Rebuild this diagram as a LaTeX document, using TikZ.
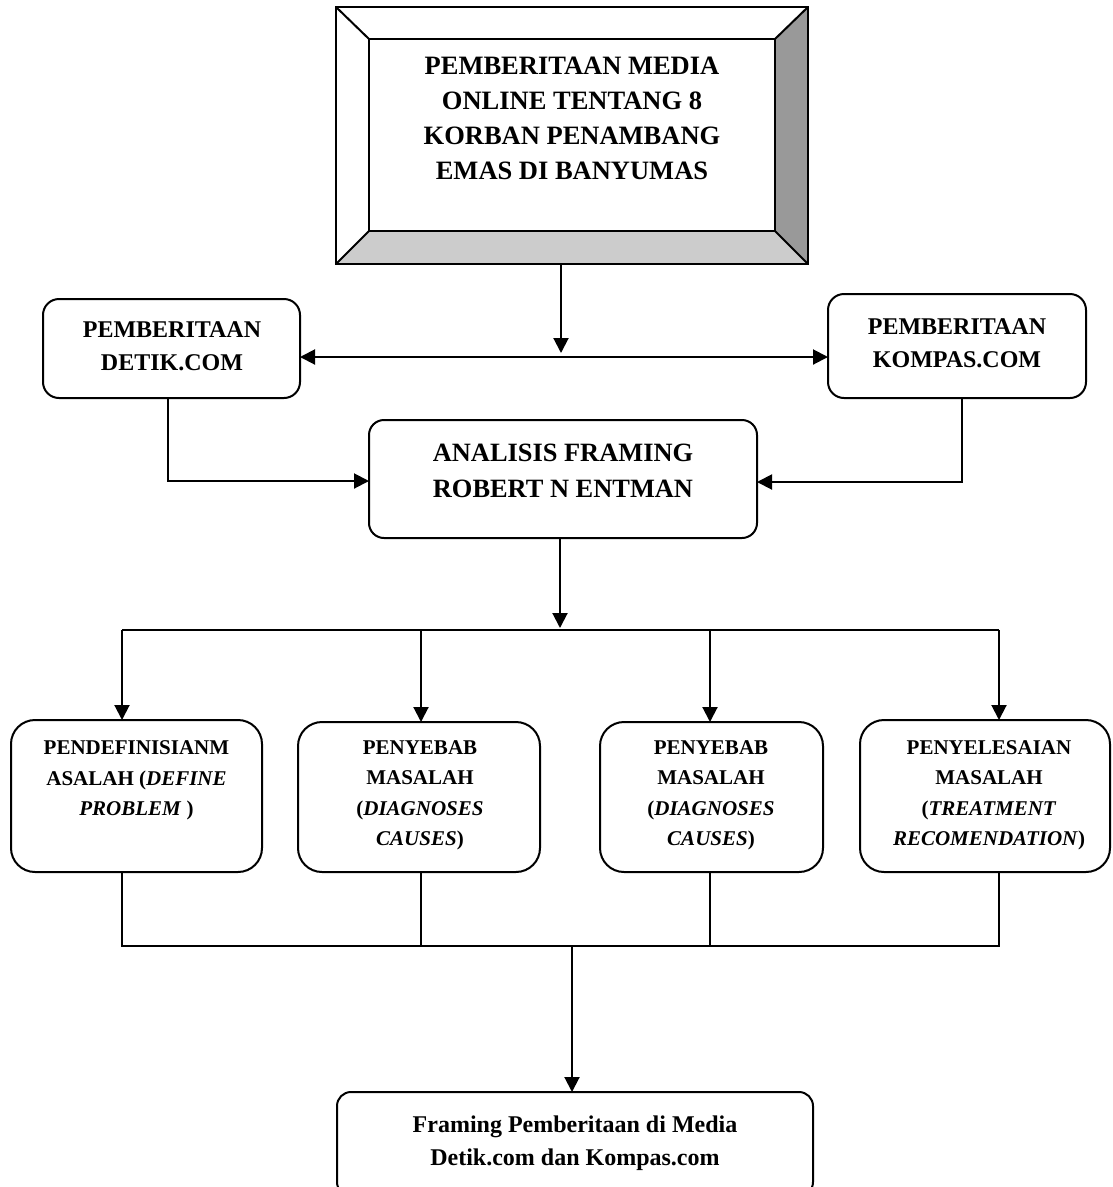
\documentclass[tikz,border=0pt]{standalone}
\usepackage{fontspec}
\setmainfont{Liberation Serif}
\usetikzlibrary{arrows.meta}
\begin{document}
\begin{tikzpicture}[x=1pt,y=-1pt,line width=2pt,
  boxr/.style={draw, rounded corners=#1, inner sep=0pt, outer sep=0pt},
  lbl/.style={inner sep=0pt, align=center},
  fbig/.style={font=\fontsize{26.5}{35}\selectfont\bfseries},
  fmed/.style={font=\fontsize{24}{33}\selectfont\bfseries},
  fana/.style={font=\fontsize{26.4}{36}\selectfont\bfseries},
  fsm/.style={font=\fontsize{21}{30.5}\selectfont\bfseries},
  arr/.style={-{Triangle[length=15pt,width=15pt]}},
  arrtwo/.style={{Triangle[length=15pt,width=15pt]}-{Triangle[length=15pt,width=15pt]}}]
\useasboundingbox (0,0) rectangle (1113,1187);
\clip (0,0) rectangle (1113,1187);
\fill[white] (0,0) rectangle (1113,1187);

% top bevel box
\node[inner sep=0pt, outer sep=0pt, minimum width=472, minimum height=257] (top) at (572,135.5) {};
\node[inner sep=0pt, outer sep=0pt, minimum width=406, minimum height=192] (topin) at (572,135) {};
\fill[black!40] (top.north east) -- (top.south east) -- (topin.south east) -- (topin.north east) -- cycle;
\fill[black!20] (top.south west) -- (top.south east) -- (topin.south east) -- (topin.south west) -- cycle;
\draw (top.north west) rectangle (top.south east);
\draw (topin.north west) rectangle (topin.south east);
\draw (top.north west) -- (topin.north west);
\draw (top.north east) -- (topin.north east);
\draw (top.south west) -- (topin.south west);
\draw (top.south east) -- (topin.south east);
\node[lbl,fbig] (toptext) at (572,118.5) {PEMBERITAAN MEDIA\\ONLINE TENTANG 8\\KORBAN PENAMBANG\\EMAS DI BANYUMAS};

% media boxes
\node[boxr=16, minimum width=257, minimum height=99] (detik) at (171.5,348.5) {};
\node[lbl,fmed] (detiktext) at (172,346.5) {PEMBERITAAN\\DETIK.COM};
\node[boxr=16, minimum width=258, minimum height=104] (kompas) at (957,346) {};
\node[lbl,fmed] (kompastext) at (957,343.5) {PEMBERITAAN\\KOMPAS.COM};

\node[boxr=15, minimum width=388, minimum height=118] (analisis) at (563,479) {};
\node[lbl,fana] (analisistext) at (563,471) {ANALISIS FRAMING\\ROBERT N ENTMAN};

% four boxes
\node[boxr=24, minimum width=251, minimum height=152] (b1) at (136.5,796) {};
\node[lbl,fsm] (b1t) at (136.5,780.5) {PENDEFINISIANM\\ASALAH (\textit{DEFINE}\\\textit{PROBLEM} )};
\node[boxr=24, minimum width=242, minimum height=150] (b2) at (419,797) {};
\node[lbl,fsm] (b2t) at (420,795.5) {PENYEBAB\\MASALAH\\(\textit{DIAGNOSES}\\\textit{CAUSES})};
\node[boxr=24, minimum width=223, minimum height=150] (b3) at (711.5,797) {};
\node[lbl,fsm] (b3t) at (711,795.5) {PENYEBAB\\MASALAH\\(\textit{DIAGNOSES}\\\textit{CAUSES})};
\node[boxr=24, minimum width=250, minimum height=152] (b4) at (985,796) {};
\node[lbl,fsm] (b4t) at (989,795.5) {PENYELESAIAN\\MASALAH\\(\textit{TREATMENT}\\\textit{RECOMENDATION})};

% final box
\node[boxr=14, minimum width=476, minimum height=104] (final) at (575,1144) {};
\node[lbl,fmed] (finaltext) at (575,1143) {Framing Pemberitaan di Media\\Detik.com dan Kompas.com};

% connectors
\coordinate (j1) at (561,357);
\draw[arr, shorten >=4pt] (top.south -| j1) -- (j1);
\draw[arrtwo] (detik.east |- j1) -- (kompas.west |- j1);
\draw[arr] ([xshift=-4pt]detik.south) |- ([yshift=-2pt]analisis.west);
\draw[arr] ([xshift=5pt]kompas.south) |- ([yshift=-3pt]analisis.east);

\coordinate (j2) at (560,630);
\draw[arr, shorten >=2pt] (analisis.south -| j2) -- (j2);
\coordinate (d1) at (122,630);
\coordinate (d2) at (421,630);
\coordinate (d3) at (710,630);
\coordinate (d4) at (999,630);
\draw (d1) -- (d4);
\draw[arr] (d1) -- (d1 |- b1.north);
\draw[arr] (d2) -- (d2 |- b2.north);
\draw[arr] (d3) -- (d3 |- b3.north);
\draw[arr] (d4) -- (d4 |- b4.north);

\coordinate (e1) at (122,946);
\coordinate (e2) at (421,946);
\coordinate (e3) at (710,946);
\coordinate (e4) at (999,946);
\coordinate (e5) at (572,946);
\draw (e1 |- b1.south) -- (e1) -- (e4) -- (e4 |- b4.south);
\draw (e2 |- b2.south) -- (e2);
\draw (e3 |- b3.south) -- (e3);
\draw[arr] (e5) -- (e5 |- final.north);
\end{tikzpicture}
\end{document}
